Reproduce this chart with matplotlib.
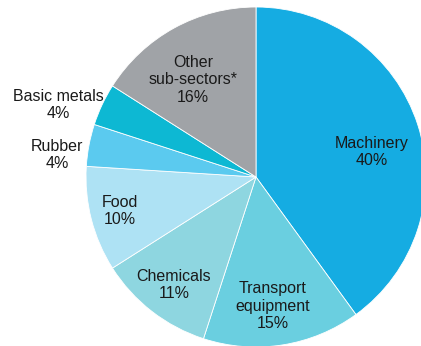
import matplotlib
matplotlib.use("Agg")
import matplotlib.pyplot as plt

plt.rcParams["font.family"] = ["Liberation Sans", "DejaVu Sans"]

# data
sectors = ["Machinery", "Transport\nequipment", "Chemicals", "Food",
           "Rubber", "Basic metals", "Other\nsub-sectors*"]
shares = [40, 15, 11, 10, 4, 4, 16]
colors = ["#15ace2", "#6acfe0", "#8ed6e0", "#aee2f4",
          "#5bcaef", "#0db8d3", "#a0a3a7"]

# label positions in pixel coords (x, y from top)
label_pos = [(372, 152), (273, 306), (174, 285), (120, 211),
             (57, 155), (58, 105), (193, 80)]

W, H = 421, 346
fig = plt.figure(figsize=(W / 100, H / 100), dpi=100)
ax = fig.add_axes([0, 0, 1, 1])

ax.pie(shares, colors=colors, startangle=90, counterclock=False,
       center=(256, H - 177), radius=170,
       wedgeprops=dict(edgecolor="white", linewidth=0.6))

for name, val, (x, y) in zip(sectors, shares, label_pos):
    ax.text(x, H - y, f"{name}\n{val}%", ha="center", va="center",
            fontsize=11.5, color="#1a1a1a", linespacing=1.2)

ax.set_xlim(0, W)
ax.set_ylim(0, H)
ax.set_aspect("equal")
ax.axis("off")

fig.savefig("out.png", dpi=100)
